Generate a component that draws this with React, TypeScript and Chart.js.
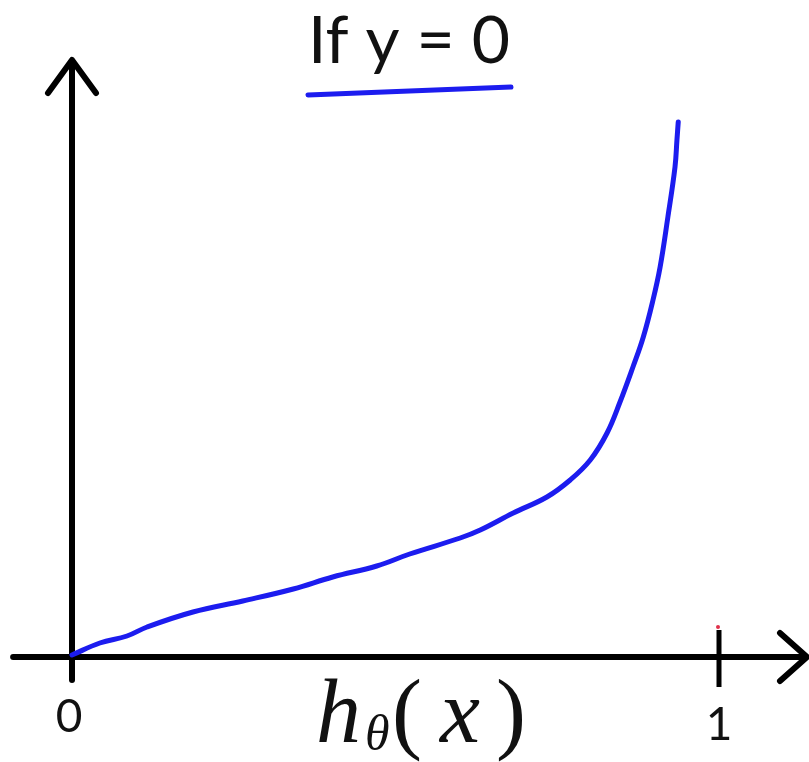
import React, { useEffect, useRef } from "react";
import { Chart, registerables } from "chart.js";

Chart.register(...registerables);

// ---- data ----
const hValues = [0, 0.043, 0.085, 0.116, 0.187, 0.264, 0.342, 0.403, 0.471, 0.522, 0.6, 0.631, 0.682, 0.734, 0.77, 0.801, 0.827, 0.847, 0.867, 0.883, 0.898, 0.909, 0.921, 0.932, 0.935, 0.937];
const costValues = [0.02, 0.14, 0.21, 0.3, 0.45, 0.56, 0.68, 0.8, 0.91, 1.03, 1.19, 1.27, 1.44, 1.6, 1.77, 1.97, 2.24, 2.55, 2.9, 3.2, 3.57, 3.9, 4.4, 4.9, 5.17, 5.35];
const tickValues = [0, 1];
const tickLabels = ["0", "1"];
const titleText = "If y = 0";
const xAxisTitle = { main: "h", sub: "θ", arg: "x" };

const BLUE = "#1c1cef";

const sketchPlugin = {
  id: "sketchAxes",
  beforeDatasetsDraw(chart: any) {
    const { ctx, scales } = chart;
    const xs = scales.x;
    const ys = scales.y;
    const ox = xs.getPixelForValue(0);
    const oy = ys.getPixelForValue(0);
    const xl = xs.getPixelForValue(-0.091);
    const xr = xs.getPixelForValue(1.136);
    const yb = ys.getPixelForValue(-0.23);
    const yt = ys.getPixelForValue(5.97);
    ctx.save();
    ctx.strokeStyle = "#000";
    ctx.lineWidth = 6;
    ctx.lineCap = "round";
    ctx.lineJoin = "round";
    // x axis
    ctx.beginPath();
    ctx.moveTo(xl, oy);
    ctx.lineTo(xr - 2, oy);
    ctx.stroke();
    ctx.beginPath();
    ctx.moveTo(xr - 27, oy - 24);
    ctx.lineTo(xr, oy);
    ctx.lineTo(xr - 27, oy + 24);
    ctx.stroke();
    // y axis
    ctx.beginPath();
    ctx.moveTo(ox, yb);
    ctx.lineTo(ox, yt + 2);
    ctx.stroke();
    ctx.beginPath();
    ctx.moveTo(ox - 24, yt + 33);
    ctx.lineTo(ox, yt);
    ctx.lineTo(ox + 24, yt + 33);
    ctx.stroke();
    // tick at 1
    const t1 = xs.getPixelForValue(tickValues[1]);
    ctx.lineWidth = 5;
    ctx.lineCap = "butt";
    ctx.beginPath();
    ctx.moveTo(t1, oy - 27);
    ctx.lineTo(t1, oy + 30);
    ctx.stroke();
    // red pen dot
    ctx.fillStyle = "#e0304a";
    ctx.beginPath();
    ctx.arc(t1 - 1, oy - 30, 2, 0, Math.PI * 2);
    ctx.fill();

    // tick labels
    ctx.fillStyle = "#111";
    ctx.textAlign = "center";
    ctx.textBaseline = "alphabetic";
    ctx.font = "46px Lato";
    ctx.fillText(tickLabels[0], xs.getPixelForValue(tickValues[0]) - 3, oy + 75);
    ctx.fillText(tickLabels[1], t1, oy + 83);

    // axis title h_θ(x)
    const base = oy + 85;
    ctx.textAlign = "left";
    ctx.font = "italic 90px 'Liberation Serif'";
    ctx.fillText(xAxisTitle.main, 316, base);
    ctx.font = "italic 50px 'Liberation Serif'";
    ctx.fillText(xAxisTitle.sub, 365, base + 8);
    ctx.font = "90px 'Liberation Serif'";
    ctx.fillText("(", 392, base);
    ctx.font = "italic 90px 'Liberation Serif'";
    ctx.fillText(xAxisTitle.arg, 440, base);
    ctx.font = "90px 'Liberation Serif'";
    ctx.fillText(")", 496, base);
    ctx.restore();
  },
  afterDraw(chart: any) {
    const { ctx } = chart;
    ctx.save();
    ctx.fillStyle = "#111";
    ctx.textAlign = "center";
    ctx.textBaseline = "alphabetic";
    ctx.font = "66px Lato";
    ctx.fillText(titleText, 409, 63);
    // hand-drawn underline
    ctx.strokeStyle = BLUE;
    ctx.lineWidth = 5;
    ctx.lineCap = "round";
    ctx.beginPath();
    ctx.moveTo(308, 95);
    ctx.quadraticCurveTo(400, 91, 511, 87);
    ctx.stroke();
    ctx.restore();
  },
};

export default function App() {
  const ref = useRef<HTMLCanvasElement | null>(null);
  useEffect(() => {
    if (!ref.current) return;
    const chart = new Chart(ref.current, {
      type: "scatter",
      data: {
        datasets: [
          {
            data: hValues.map((h, i) => ({ x: h, y: costValues[i] })),
            showLine: true,
            borderColor: BLUE,
            borderWidth: 5,
            pointRadius: 0,
            tension: 0.4,
            borderCapStyle: "round",
            borderJoinStyle: "round",
            clip: false,
          } as any,
        ],
      },
      options: {
        animation: false,
        responsive: false,
        events: [],
        layout: { padding: { left: 72, right: 90, top: 57, bottom: 105 } },
        plugins: { legend: { display: false }, tooltip: { enabled: false }, title: { display: false } },
        scales: {
          x: { type: "linear", min: 0, max: 1, display: false },
          y: { type: "linear", min: 0, max: 6, display: false },
        },
      },
      plugins: [sketchPlugin],
    });
    return () => chart.destroy();
  }, []);
  return (
    <div style={{ position: "absolute", left: 0, top: 0, width: 809, height: 762, background: "#fff" }}>
      <canvas ref={ref} width={809} height={762} />
    </div>
  );
}
